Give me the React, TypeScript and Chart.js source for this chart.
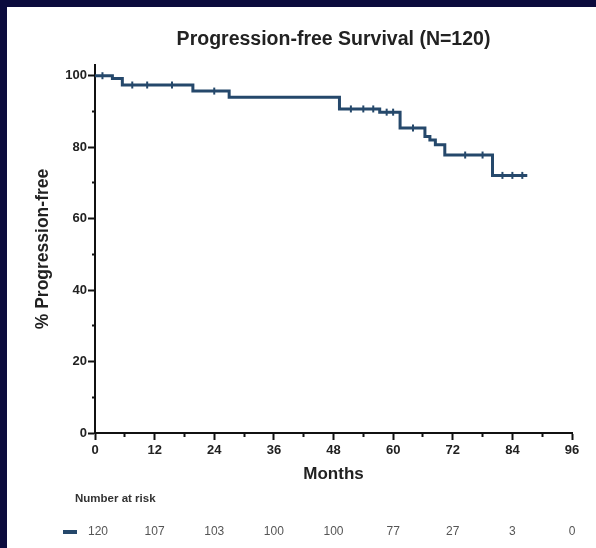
import React, { useEffect, useRef } from "react";
import { Chart, registerables } from "chart.js";

Chart.register(...registerables);

// Kaplan-Meier steps: time (months) at which survival drops, and survival (%) from then on
const months = [0, 3.5, 5.5, 19.7, 27, 49.2, 57.3, 61.4, 66.4, 67.4, 68.5, 70.4, 80, 87];
const survival = [100, 99.2, 97.4, 95.7, 94.0, 90.7, 89.8, 85.4, 83.0, 82.0, 80.7, 77.8, 72.1, 72.1];

// Censoring marks (months)
const censorMonths = [1.5, 7.5, 10.5, 15.5, 24, 51.5, 54, 56, 58.7, 60, 64, 74.5, 78, 82, 84, 86];

// Axis ticks
const xTickValues = [0, 6, 12, 18, 24, 30, 36, 42, 48, 54, 60, 66, 72, 78, 84, 90, 96];
const yTickValues = [0, 10, 20, 30, 40, 50, 60, 70, 80, 90, 100];

// Number at risk table
const atRiskMonths = [0, 12, 24, 36, 48, 60, 72, 84, 96];
const atRisk = [120, 107, 103, 100, 100, 77, 27, 3, 0];

const LINE = "#25486b";
const FONT = "'Liberation Sans', Arial, Helvetica, sans-serif";

function survivalAt(t: number): number {
  let v = survival[0];
  for (let i = 0; i < months.length; i++) {
    if (months[i] <= t) v = survival[i];
  }
  return v;
}

export default function App() {
  const ref = useRef<HTMLCanvasElement>(null);

  useEffect(() => {
    document.body.style.margin = "0";
    const canvas = ref.current!;
    Chart.defaults.font.family = FONT;

    const atRiskPlugin = {
      id: "atRiskTable",
      afterDraw(chart: any) {
        const c = chart.ctx as CanvasRenderingContext2D;
        const xs = chart.scales.x;
        c.save();
        c.fillStyle = "#333";
        c.font = `bold 11.5px ${FONT}`;
        c.textAlign = "left";
        c.textBaseline = "middle";
        c.fillText("Number at risk", 75, 499);
        c.fillStyle = LINE;
        c.fillRect(63, 530, 14, 4);
        c.fillStyle = "#555";
        c.font = `12px ${FONT}`;
        c.textAlign = "center";
        atRiskMonths.forEach((m, i) => {
          c.fillText(String(atRisk[i]), xs.getPixelForValue(m) + (i === 0 ? 3 : 0), 532);
        });
        c.restore();
      },
    };

    const chart = new Chart(canvas, {
      type: "line",
      data: {
        datasets: [
          {
            label: "PFS",
            data: months.map((m, i) => ({ x: m, y: survival[i] })),
            stepped: true,
            borderColor: LINE,
            borderWidth: 3,
            pointRadius: 0,
            fill: false,
          },
          {
            label: "Censored",
            data: censorMonths.map((m) => ({ x: m, y: survivalAt(m) })),
            showLine: false,
            pointStyle: "line",
            rotation: 90,
            pointRadius: 3.5,
            borderColor: LINE,
            backgroundColor: LINE,
            borderWidth: 2,
          },
        ],
      },
      options: {
        responsive: false,
        animation: false,
        layout: { padding: { left: 0, right: 24, top: 0, bottom: 63 } },
        plugins: {
          legend: { display: false },
          tooltip: { enabled: false },
          title: {
            display: true,
            text: "Progression-free Survival (N=120)",
            fullSize: false,
            color: "#222",
            font: { size: 19.5, weight: "bold" },
            padding: { top: 28, bottom: 13.6 },
          },
        },
        scales: {
          x: {
            type: "linear",
            min: 0,
            max: 96,
            afterBuildTicks: (s: any) => {
              s.ticks = xTickValues.map((v) => ({ value: v }));
            },
            afterFit: (s: any) => {
              s.height = 52;
            },
            ticks: {
              autoSkip: false,
              maxRotation: 0,
              padding: 3,
              color: "#222",
              font: { size: 13, weight: "bold" },
              callback: (v: any) => (Number(v) % 12 === 0 ? String(v) : ""),
            },
            grid: {
              drawOnChartArea: false,
              drawTicks: true,
              tickLength: 7,
              tickColor: "#111",
              tickWidth: 2,
              tickBorderDash: (ctx: any) =>
                ctx.tick && ctx.tick.value % 12 !== 0 ? [3, 40] : [],
            },
            border: { display: true, color: "#111", width: 2 },
            title: {
              display: true,
              text: "Months",
              color: "#222",
              font: { size: 17, weight: "bold" },
              padding: { top: 0, bottom: 0 },
            },
          },
          y: {
            type: "linear",
            min: 0,
            max: 103,
            afterBuildTicks: (s: any) => {
              s.ticks = yTickValues.map((v) => ({ value: v }));
            },
            afterFit: (s: any) => {
              s.width = 95;
            },
            ticks: {
              autoSkip: false,
              padding: 1,
              color: "#222",
              font: { size: 13, weight: "bold" },
              callback: (v: any) => (Number(v) % 20 === 0 ? String(v) : ""),
            },
            grid: {
              drawOnChartArea: false,
              drawTicks: true,
              tickLength: 7,
              tickColor: "#111",
              tickWidth: 2,
              tickBorderDash: (ctx: any) =>
                ctx.tick && ctx.tick.value % 20 !== 0 ? [0, 4, 3, 40] : [],
            },
            border: { display: true, color: "#111", width: 2 },
            title: {
              display: true,
              text: "% Progression-free",
              color: "#222",
              font: { size: 17.5, weight: "bold" },
              padding: { top: 33, bottom: 0 },
            },
          },
        },
      },
      plugins: [atRiskPlugin],
    } as any);

    return () => chart.destroy();
  }, []);

  return (
    <div
      style={{
        position: "fixed",
        left: 0,
        top: 0,
        width: 596,
        height: 548,
        background: "#0b0b3d",
        overflow: "hidden",
      }}
    >
      <div
        style={{
          position: "absolute",
          left: 7,
          top: 7,
          right: 0,
          bottom: 0,
          background: "#ffffff",
        }}
      />
      <canvas
        ref={ref}
        width={596}
        height={548}
        style={{ position: "absolute", left: 0, top: 0, width: 596, height: 548 }}
      />
    </div>
  );
}
